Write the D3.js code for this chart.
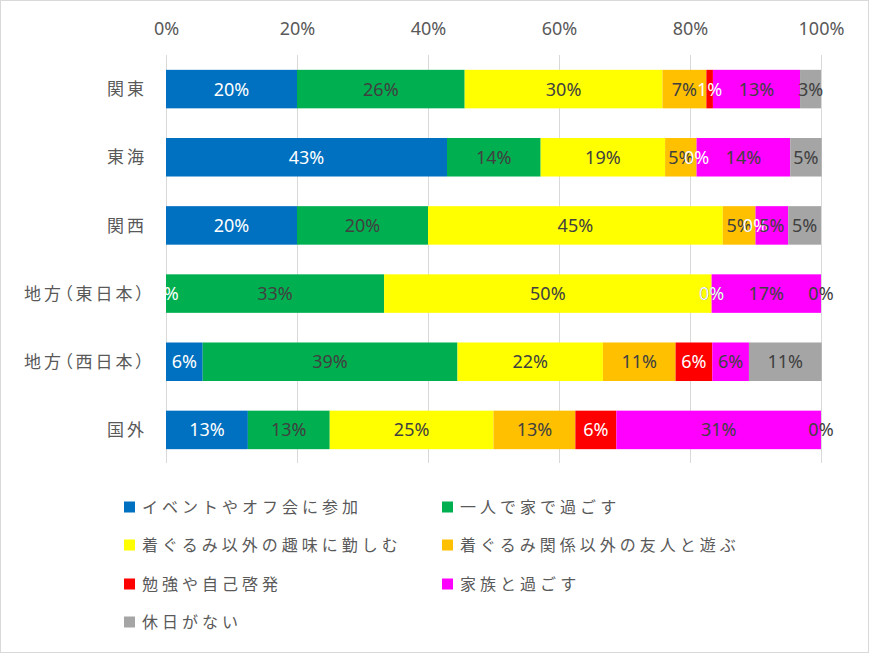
<!DOCTYPE html>
<html>
<head>
<meta charset="utf-8">
<script src="https://cdn.jsdelivr.net/npm/d3@7"></script>
<style>
  html, body { margin: 0; padding: 0; background: #fff; }
  svg { display: block; }
  .cat { font-feature-settings: "palt"; }
</style>
</head>
<body>
<svg id="chart" width="869" height="653"></svg>
<script>
const categories = ["関東", "東海", "関西", "地方（東日本）", "地方（西日本）", "国外"];
const seriesNames = [
  "イベントやオフ会に参加",
  "一人で家で過ごす",
  "着ぐるみ以外の趣味に勤しむ",
  "着ぐるみ関係以外の友人と遊ぶ",
  "勉強や自己啓発",
  "家族と過ごす",
  "休日がない"
];
// values in percent, one array per series, in category order
const eventValues    = [20.0, 42.9, 20.0,  0.0,  5.6, 12.5];
const aloneValues    = [25.6, 14.3, 20.0, 33.3, 38.9, 12.5];
const hobbyValues    = [30.2, 19.0, 45.0, 50.0, 22.2, 25.0];
const friendValues   = [ 6.7,  4.8,  5.0,  0.0, 11.1, 12.5];
const studyValues    = [ 1.0,  0.0,  0.0,  0.0,  5.6,  6.25];
const familyValues   = [13.3, 14.3,  5.0, 16.7,  5.6, 31.25];
const noHolidayValues= [ 3.2,  4.8,  5.0,  0.0, 11.1,  0.0];
const tickValues = [0, 20, 40, 60, 80, 100];
const tickLabels = ["0%", "20%", "40%", "60%", "80%", "100%"];

const seriesValues = [eventValues, aloneValues, hobbyValues, friendValues, studyValues, familyValues, noHolidayValues];
const colors = ["#0070C0", "#00B050", "#FFFF00", "#FFC000", "#FF0000", "#FF00FF", "#A5A5A5"];
const labelColors = ["#FFFFFF", "#404040", "#404040", "#404040", "#FFFFFF", "#404040", "#404040"];

const svg = d3.select("#chart");
const numFont = "'Noto Sans', 'Open Sans', sans-serif";
const jpFont = "'Noto Sans CJK JP', sans-serif";
const textColor = "#595959";

// outer border
svg.append("rect").attr("x", 0.5).attr("y", 0.5).attr("width", 868).attr("height", 652)
  .attr("fill", "#fff").attr("stroke", "#D9D9D9");

const x = d3.scaleLinear().domain([0, 100]).range([166, 821]);
const y = d3.scaleBand().domain(categories).range([55, 464]).paddingInner(0.435).paddingOuter(0.2175);

// gridlines
svg.append("g").selectAll("line").data(tickValues).join("line")
  .attr("x1", d => Math.round(x(d)) + 0.5).attr("x2", d => Math.round(x(d)) + 0.5)
  .attr("y1", 55).attr("y2", 463)
  .attr("stroke", "#D9D9D9").attr("stroke-width", 1);

// top axis labels
const axis = d3.axisTop(x).tickValues(tickValues).tickSize(0).tickPadding(0)
  .tickFormat((d, i) => tickLabels[i]);
const axG = svg.append("g").attr("transform", "translate(0,35)").call(axis);
axG.select(".domain").remove();
axG.selectAll("text").attr("font-family", numFont).attr("font-size", 18).attr("fill", textColor);

// stacked data
const table = categories.map((c, i) => {
  const o = { category: c };
  seriesNames.forEach((s, j) => { o[s] = seriesValues[j][i]; });
  return o;
});
const stack = d3.stack().keys(seriesNames);
const stacked = stack(table);

const layers = svg.append("g").selectAll("g").data(stacked).join("g")
  .attr("fill", (d, i) => colors[i]);
layers.selectAll("rect").data(d => d).join("rect")
  .attr("x", d => x(d[0]))
  .attr("width", d => x(d[1]) - x(d[0]))
  .attr("y", d => y(d.data.category))
  .attr("height", y.bandwidth());

// data labels
const fmt = d3.format(".0%");
const lbls = svg.append("g").selectAll("g").data(stacked).join("g")
  .attr("fill", (d, i) => labelColors[i]);
lbls.selectAll("text").data(d => d).join("text")
  .attr("x", d => (x(d[0]) + x(d[1])) / 2)
  .attr("y", d => y(d.data.category) + y.bandwidth() / 2)
  .attr("dy", "0.36em")
  .attr("text-anchor", "middle")
  .attr("font-family", numFont)
  .attr("font-size", 18)
  .text(d => fmt((d[1] - d[0]) / 100));

// category labels
svg.append("g").selectAll("text").data(categories).join("text")
  .attr("class", "cat")
  .attr("x", 147)
  .attr("y", d => y(d) + y.bandwidth() / 2)
  .attr("dy", "0.36em")
  .attr("text-anchor", "end")
  .attr("font-family", jpFont)
  .attr("font-size", 17)
  .attr("letter-spacing", "3px")
  .attr("fill", textColor)
  .text(d => d);

// legend
const legendCols = [124, 442];
const legendRows = [507, 545, 584, 622];
const lg = svg.append("g").selectAll("g").data(seriesNames).join("g")
  .attr("transform", (d, i) => `translate(${legendCols[i % 2]},${legendRows[Math.floor(i / 2)]})`);
lg.append("rect").attr("x", 0).attr("y", -5.5).attr("width", 11).attr("height", 11)
  .attr("fill", (d, i) => colors[i]);
lg.append("text").attr("x", 18).attr("dy", "0.36em")
  .attr("font-family", jpFont).attr("font-size", 16)
  .attr("letter-spacing", "4px")
  .attr("fill", textColor)
  .text(d => d);
</script>
</body>
</html>
